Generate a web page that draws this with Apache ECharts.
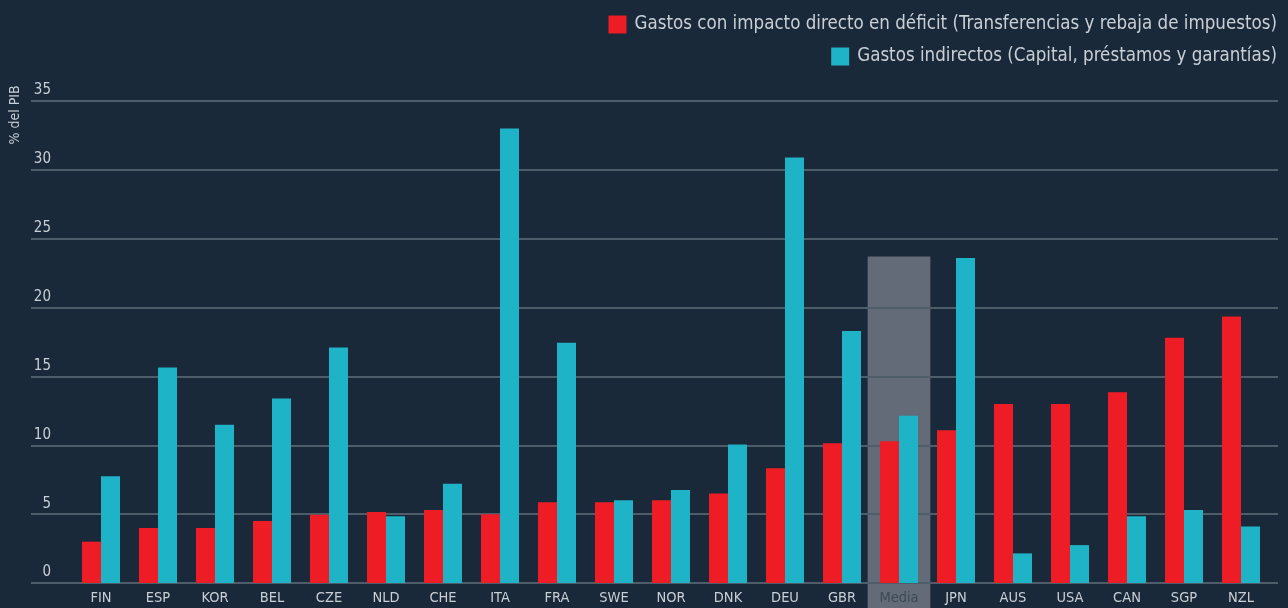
<!DOCTYPE html>
<html>
<head>
<meta charset="utf-8">
<script src="https://cdn.jsdelivr.net/npm/echarts@6/dist/echarts.min.js"></script>
<style>
html,body{margin:0;padding:0;background:#192939;}
#chart{width:1288px;height:608px;}
</style>
</head>
<body>
<div id="chart"></div>
<script>
const categories = ['FIN','ESP','KOR','BEL','CZE','NLD','CHE','ITA','FRA','SWE','NOR','DNK','DEU','GBR','Media','JPN','AUS','USA','CAN','SGP','NZL'];
const directos = [3.0,4.0,4.0,4.5,4.95,5.15,5.3,5.0,5.87,5.87,6.0,6.5,8.33,10.15,10.3,11.1,13.0,13.0,13.85,17.8,19.35];
const indirectos = [7.75,15.65,11.5,13.4,17.1,4.85,7.2,33.0,17.45,6.0,6.75,10.05,30.9,18.3,12.15,23.6,2.15,2.75,4.85,5.3,4.1];
const highlightCategory = 'Media';
const highlightTop = 23.7;
const yMin = 0, yMax = 35, yStep = 5;
const nameDirectos = 'Gastos con impacto directo en déficit (Transferencias y rebaja de impuestos)';
const nameIndirectos = 'Gastos indirectos (Capital, préstamos y garantías)';
const yAxisTitle = '% del PIB';

const FONT = "'DejaVu Sans Condensed', 'Liberation Sans Narrow', 'Open Sans', sans-serif";
const TXT = '#c9cfd6';
const GRID = '#4f5d6b';

const chart = echarts.init(document.getElementById('chart'), null, {renderer:'canvas'});
const legendCommon = {
  right: 6, orient: 'horizontal', itemWidth: 18, itemHeight: 18, icon: 'rect',
  textStyle: {color: TXT, fontSize: 18.6, fontFamily: FONT, padding: [0,0,0,3]},
  selectedMode: false
};
chart.setOption({
  backgroundColor: '#192939',
  animation: false,
  legend: [
    Object.assign({}, legendCommon, {top: 10, data: [nameDirectos]}),
    Object.assign({}, legendCommon, {top: 42, data: [nameIndirectos]})
  ],
  grid: [
    {left: 31, right: 10, top: 101, bottom: 25},
    {left: 72.5, right: 18.5, top: 101, bottom: 25}
  ],
  xAxis: [
    {gridIndex: 0, type: 'value', show: false, min: 0, max: 1},
    {gridIndex: 1, type: 'category', data: categories,
     axisLine: {show: false}, axisTick: {show: false},
     axisLabel: {margin: 8, fontSize: 14.5, fontFamily: FONT,
       color: function(v){ return v === highlightCategory ? '#3d4a58' : TXT; }},
     splitLine: {show: false}}
  ],
  yAxis: [
    {gridIndex: 0, type: 'value', min: yMin, max: yMax, interval: yStep,
     axisLine: {show: false}, axisTick: {show: false},
     axisLabel: {margin: -20, align: 'right', verticalAlign: 'bottom', padding: [0,0,3,0],
       fontSize: 15, fontFamily: FONT, color: TXT},
     splitLine: {show: true, lineStyle: {color: GRID, width: 2}}},
    {gridIndex: 1, type: 'value', min: yMin, max: yMax, interval: yStep, show: false,
     splitLine: {show: false}}
  ],
  series: [
    {name: nameDirectos, type: 'bar', xAxisIndex: 1, yAxisIndex: 1, data: directos,
     barWidth: 19, barGap: '0%', itemStyle: {color: '#ee1c25'}},
    {name: nameIndirectos, type: 'bar', xAxisIndex: 1, yAxisIndex: 1, data: indirectos,
     barWidth: 19, barGap: '0%', itemStyle: {color: '#1fb3c7'}}
  ]
});

const pTop = chart.convertToPixel({xAxisIndex: 1, yAxisIndex: 1}, [highlightCategory, highlightTop]);
const idx = categories.indexOf(highlightCategory);
const pNext = chart.convertToPixel({xAxisIndex: 1, yAxisIndex: 1}, [categories[idx + 1], highlightTop]);
const band = Math.abs(pNext[0] - pTop[0]);
const w = band * 1.1;
chart.setOption({
  graphic: [
    {type: 'rect', z: -1, silent: true,
     shape: {x: pTop[0] - w / 2, y: pTop[1], width: w, height: chart.getHeight() - pTop[1]},
     style: {fill: '#626b77'}},
    {type: 'text', x: 15, y: 115, rotation: Math.PI / 2, silent: true,
     style: {text: yAxisTitle, fill: TXT, fontSize: 14, fontFamily: FONT, align: 'center', verticalAlign: 'middle'}}
  ]
});
</script>
</body>
</html>
